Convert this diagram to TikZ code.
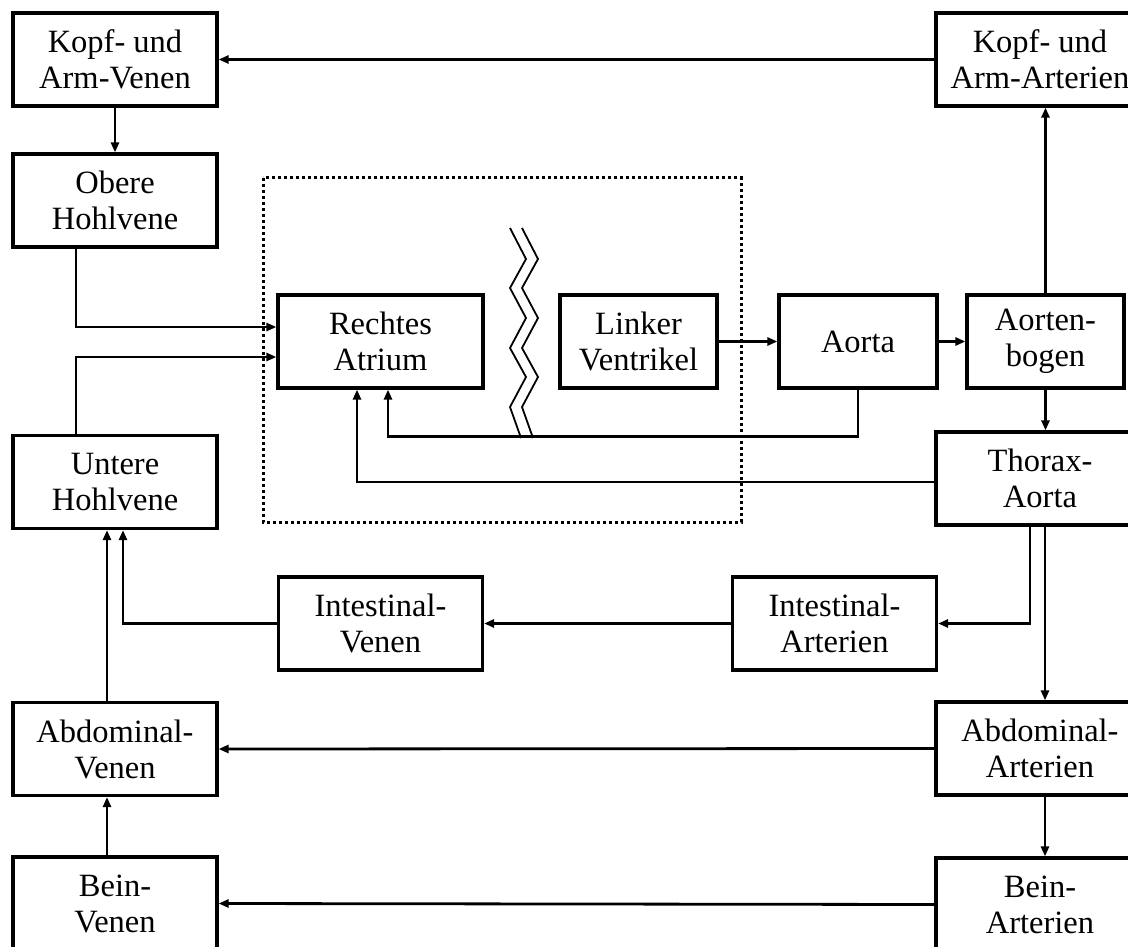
\documentclass[tikz,border=0pt]{standalone}
\usepackage{fontspec}
\setmainfont{Liberation Serif}
\usetikzlibrary{arrows.meta,calc}
\begin{document}
\begin{tikzpicture}[x=1pt,y=-1pt,
  box/.style={draw,line width=3.2pt,inner sep=0pt,align=center,
    font=\fontsize{32.5}{36}\selectfont,minimum height=93pt},
  wide/.style={box,minimum width=204pt},
  link/.style={line width=2.8pt},
  flow/.style={link,-{Triangle[length=10pt,width=8pt]}},
  zig/.style={line width=1.8pt,line join=miter}]
\useasboundingbox (0,0) rectangle (1128,947);
\clip (0,0) rectangle (1128,947);

% venous column (left)
\node[wide] (kv) at (115,59.5)  {Kopf- und\\Arm-Venen};
\node[wide] (oh) at (115,200.5) {Obere\\Hohlvene};
\node[wide] (uh) at (115,482)   {Untere\\Hohlvene};
\node[wide] (av) at (115,749)   {Abdominal-\\Venen};
\node[wide] (bv) at (115,903.5) {Bein-\\Venen};

% arterial column (right)
\node[box,minimum width=208pt] (ka) at (1040,59.5)  {Kopf- und\\Arm-Arterien};
\node[box,minimum width=208pt] (ta) at (1040,478.5) {Thorax-\\Aorta};
\node[box,minimum width=208pt] (aa) at (1040,748.5) {Abdominal-\\Arterien};
\node[box,minimum width=208pt] (ba) at (1040,904.5) {Bein-\\Arterien};

% heart and aorta
\node[box,minimum width=205pt] (ra) at (380.5,341.5) {Rechtes\\Atrium};
\node[box,minimum width=157pt] (lv) at (638.5,341.5) {Linker\\Ventrikel};
\node[box,minimum width=158pt] (ao) at (858,341.5)   {Aorta};
\node[box,minimum width=157pt] (ab) at (1045.5,341.5) {Aorten-\\bogen};

% intestinal loop
\node[wide] (iv) at (380.5,623.5) {Intestinal-\\Venen};
\node[wide] (ia) at (834.5,623.5) {Intestinal-\\Arterien};

% heart outline and the break between both halves
\draw[line width=3pt,dash pattern=on 3pt off 3pt] (263,178) rectangle (741,522);
\draw[zig] (510,228) -- (526,259) -- (510,288) -- (526,318) -- (510,348)
  -- (526,377) -- (510,407) -- (521,438);
\draw[zig] (522,228) -- (538,259) -- (522,288) -- (538,318) -- (522,348)
  -- (538,377) -- (522,407) -- (533,438);

% connectors
\draw[flow] (ka.west) -- (kv.east);
\draw[flow] (kv.south) -- (oh.north);
\draw[flow] ($(oh.south)+(-39,0)$) |- ($(ra.west)+(0,-14.5)$);
\draw[flow] ($(uh.north)+(-39,0)$) |- ($(ra.west)+(0,15.5)$);
\draw[flow] (lv.east) -- (ao.west);
\draw[flow] (ao.east) -- (ab.west);
\draw[flow] (ab.north) -- (ab.north |- ka.south);
\draw[flow] (ab.south) -- (ab.south |- ta.north);
\draw[flow] (ao.south) -- ++(0,47) -| ($(ra.south)+(7.5,0)$);
\draw[flow] ($(ta.west)+(0,3.5)$) -| ($(ra.south)+(-23.5,0)$);
\draw[flow] ($(ta.south)+(-10,0)$) |- (ia.east);
\draw[flow] ($(ta.south)+(5,0)$) -- ($(aa.north)+(5,0)$);
\draw[flow] (ia.west) -- (iv.east);
\draw[flow] (iv.west) -| ($(uh.south)+(8,0)$);
\draw[flow] ($(av.north)+(-8,0)$) -- ($(uh.south)+(-8,0)$);
\draw[flow] (aa.west) -- (av.east);
\draw[flow] ($(aa.south)+(5,0)$) -- ($(ba.north)+(5,0)$);
\draw[flow] (ba.west) -- (bv.east);
\draw[flow] ($(bv.north)+(-8,0)$) -- ($(av.south)+(-8,0)$);
\end{tikzpicture}
\end{document}
